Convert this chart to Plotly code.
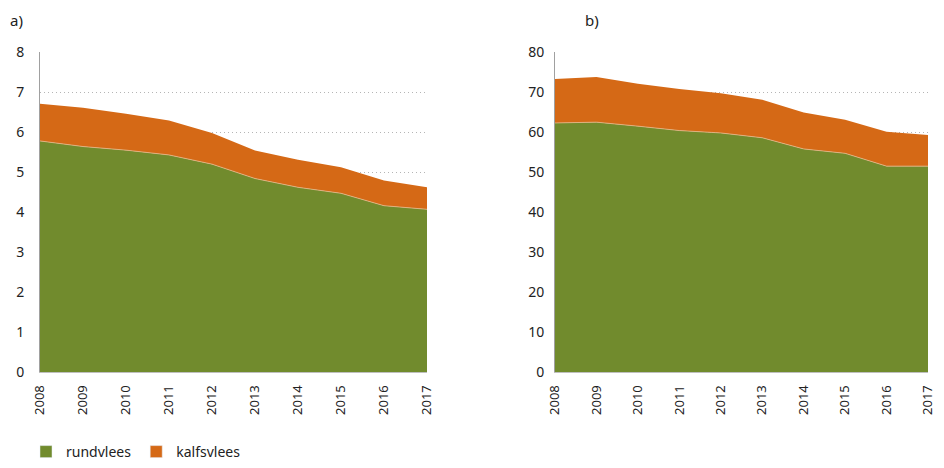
import plotly.graph_objects as go

years = [2008, 2009, 2010, 2011, 2012, 2013, 2014, 2015, 2016, 2017]

# chart a)
rund_a = [5.78, 5.64, 5.55, 5.43, 5.20, 4.84, 4.62, 4.47, 4.16, 4.07]
kalf_a = [0.93, 0.97, 0.91, 0.86, 0.78, 0.70, 0.69, 0.65, 0.63, 0.55]

# chart b)
rund_b = [62.3, 62.5, 61.5, 60.4, 59.8, 58.6, 55.8, 54.7, 51.5, 51.5]
kalf_b = [11.0, 11.3, 10.6, 10.4, 9.9, 9.5, 9.1, 8.4, 8.6, 7.8]

series_names = ["rundvlees", "kalfsvlees"]
colors = ["#718B2D", "#D56916"]
panel_labels = ["a)", "b)"]

FONT = "Noto Sans, Open Sans, sans-serif"

fig = go.Figure()

def add_panel(xa, ya, rund, kalf, sg):
    fig.add_trace(go.Scatter(
        x=years, y=rund, name=series_names[0], stackgroup=sg, mode="lines",
        line=dict(width=0.8, color="#e3b98a"), fillcolor=colors[0],
        xaxis=xa, yaxis=ya, showlegend=False, hoverinfo="x+y"))
    fig.add_trace(go.Scatter(
        x=years, y=kalf, name=series_names[1], stackgroup=sg, mode="lines",
        line=dict(width=0), fillcolor=colors[1],
        xaxis=xa, yaxis=ya, showlegend=False, hoverinfo="x+y"))

add_panel("x", "y", rund_a, kalf_a, "a")
add_panel("x2", "y2", rund_b, kalf_b, "b")

# legend-only dummy traces (square symbols)
for name, c in zip(series_names, colors):
    fig.add_trace(go.Bar(x=[None], y=[None], name=name, marker_color=c,
                         xaxis="x", yaxis="y", showlegend=True))

# page has an 8px body margin on all sides: keep the figure inside the window
OFF = 8
W, H = 944 - 2 * OFF, 468 - 2 * OFF
RIGHT_END = 928  # page x of right plot's end
ml, mr, mt, mb = 40 - OFF, W - (RIGHT_END - OFF), 52 - OFF, H - (372 - OFF)
pw = W - ml - mr
ph = H - mt - mb

def px_x(p):
    return (p - OFF - ml) / pw

def px_y(p):
    return (H - mb - (p - OFF)) / ph

xaxis_common = dict(
    range=[2008, 2017], tickvals=years, ticktext=[str(y) for y in years],
    tickangle=-90, showgrid=False, zeroline=False, automargin=False,
    ticklabeloverflow="allow",
    showline=True, linecolor="#bfbfbf", linewidth=1,
    ticks="outside", ticklen=7, tickcolor="rgba(0,0,0,0)",
    tickfont=dict(family=FONT, size=13, color="#222222"),
)
yaxis_common = dict(
    showgrid=True, gridcolor="#b5b5b5", griddash="1px,3px", gridwidth=1,
    zeroline=False, showline=True, linecolor="#a0a0a0", linewidth=1,
    automargin=False, ticks="outside", tickcolor="rgba(0,0,0,0)",
    tickfont=dict(family=FONT, size=14, color="#222222"),
)

fig.update_layout(
    width=W, height=H,
    margin=dict(l=ml, r=mr, t=mt, b=mb, autoexpand=False),
    paper_bgcolor="white", plot_bgcolor="white",
    font=dict(family=FONT, size=14, color="#222222"),
    barmode="overlay",
    xaxis=dict(domain=[0, px_x(427)], anchor="y", **xaxis_common),
    yaxis=dict(domain=[0, 1], anchor="x", range=[0, 8.005], tickvals=list(range(0, 9)),
               ticklen=12, **yaxis_common),
    xaxis2=dict(domain=[px_x(555), 1], anchor="y2", **xaxis_common),
    yaxis2=dict(domain=[0, 1], anchor="x2", range=[0, 80.05], tickvals=list(range(0, 81, 10)),
                ticklen=7, **yaxis_common),
    legend=dict(orientation="h", x=px_x(26), xanchor="left", y=px_y(452), yanchor="middle",
                traceorder="normal",
                font=dict(family=FONT, size=14, color="#222222"),
                bgcolor="rgba(0,0,0,0)"),
    showlegend=True,
    annotations=[
        dict(text=panel_labels[0], xref="paper", yref="paper", x=px_x(8), y=px_y(OFF),
             xanchor="left", yanchor="top", showarrow=False,
             font=dict(family=FONT, size=15, color="#222222")),
        dict(text=panel_labels[1], xref="paper", yref="paper", x=px_x(583), y=px_y(OFF),
             xanchor="left", yanchor="top", showarrow=False,
             font=dict(family=FONT, size=15, color="#222222")),
    ],
)

fig.write_html("out.html")
